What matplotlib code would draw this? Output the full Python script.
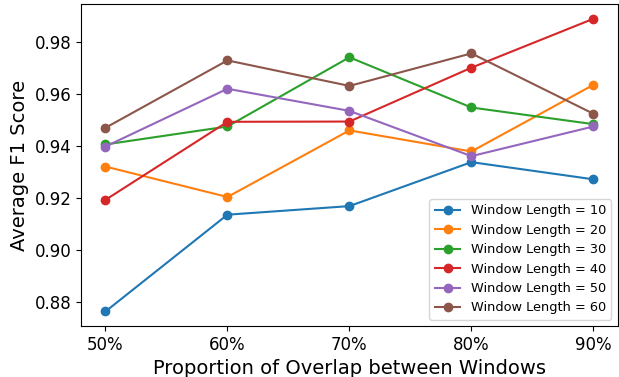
import matplotlib
matplotlib.use("Agg")
import matplotlib.pyplot as plt

# データ
overlaps = ["50%", "60%", "70%", "80%", "90%"]
window_lengths = [10, 20, 30, 40, 50, 60]

f1_w10 = [0.8765, 0.9137, 0.9170, 0.9339, 0.9273]
f1_w20 = [0.9322, 0.9205, 0.9461, 0.9380, 0.9636]
f1_w30 = [0.9407, 0.9476, 0.9742, 0.9549, 0.9485]
f1_w40 = [0.9194, 0.9494, 0.9495, 0.9702, 0.9890]
f1_w50 = [0.9399, 0.9621, 0.9536, 0.9362, 0.9476]
f1_w60 = [0.9471, 0.9730, 0.9632, 0.9757, 0.9525]

series = [f1_w10, f1_w20, f1_w30, f1_w40, f1_w50, f1_w60]

fig, ax = plt.subplots(figsize=(6.19, 3.77), dpi=100)
fig.subplots_adjust(left=0.131, right=0.998, top=0.989, bottom=0.135)

for wl, vals in zip(window_lengths, series):
    ax.plot(overlaps, vals, marker="o", label=f"Window Length = {wl}")

ax.set_xlabel("Proportion of Overlap between Windows", fontsize=14)
ax.set_ylabel("Average F1 Score", fontsize=14)
ax.tick_params(labelsize=12)
ax.set_yticks([0.88, 0.90, 0.92, 0.94, 0.96, 0.98])
ax.legend(loc="lower right", fontsize=9.3)

fig.savefig("out.png", dpi=100)
